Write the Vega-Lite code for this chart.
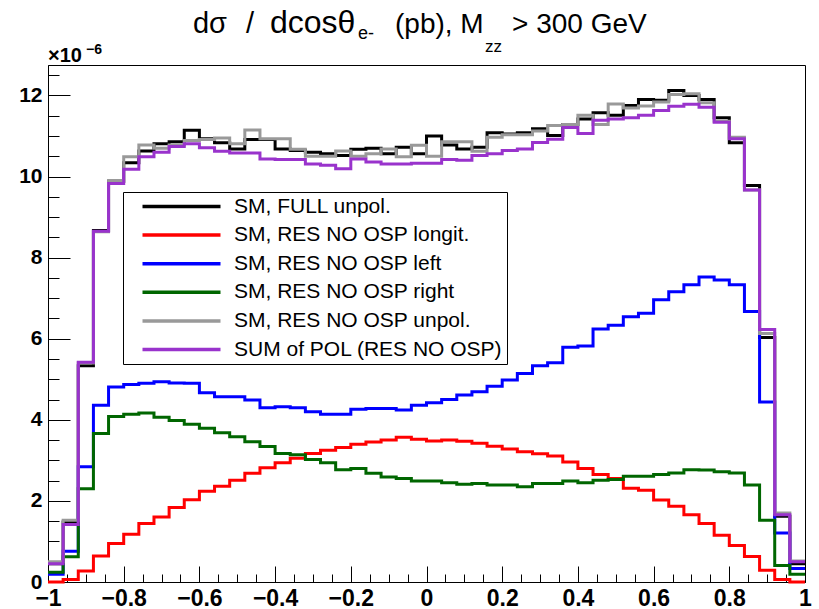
{
  "$schema": "https://vega.github.io/schema/vega-lite/v6.json",
  "width": 757,
  "height": 517,
  "autosize": {"type": "none"},
  "padding": {"left": 48, "top": 65, "right": 14, "bottom": 27},
  "background": "white",
  "config": {"view": {"stroke": "black", "strokeWidth": 1}, "font": "Liberation Sans"},
  "datasets": {
    "h": [
      {"x": -1.00, "full": 0.45, "longit": 0.00, "left": 0.19, "right": 0.24, "unpol": 0.50, "sum": 0.45},
      {"x": -0.96, "full": 1.48, "longit": 0.06, "left": 0.76, "right": 0.62, "unpol": 1.52, "sum": 1.42},
      {"x": -0.92, "full": 5.33, "longit": 0.27, "left": 2.84, "right": 2.30, "unpol": 5.40, "sum": 5.42},
      {"x": -0.88, "full": 8.67, "longit": 0.64, "left": 4.36, "right": 3.66, "unpol": 8.64, "sum": 8.65},
      {"x": -0.84, "full": 9.88, "longit": 0.95, "left": 4.81, "right": 4.08, "unpol": 9.90, "sum": 9.83},
      {"x": -0.80, "full": 10.34, "longit": 1.18, "left": 4.87, "right": 4.14, "unpol": 10.49, "sum": 10.18},
      {"x": -0.76, "full": 10.63, "longit": 1.44, "left": 4.90, "right": 4.17, "unpol": 10.78, "sum": 10.49},
      {"x": -0.72, "full": 10.81, "longit": 1.60, "left": 4.94, "right": 4.06, "unpol": 10.70, "sum": 10.60},
      {"x": -0.68, "full": 10.86, "longit": 1.84, "left": 4.91, "right": 3.98, "unpol": 10.78, "sum": 10.74},
      {"x": -0.64, "full": 11.14, "longit": 2.03, "left": 4.90, "right": 3.89, "unpol": 10.89, "sum": 10.81},
      {"x": -0.60, "full": 10.93, "longit": 2.24, "left": 4.67, "right": 3.79, "unpol": 10.91, "sum": 10.71},
      {"x": -0.56, "full": 10.83, "longit": 2.36, "left": 4.57, "right": 3.68, "unpol": 10.95, "sum": 10.62},
      {"x": -0.52, "full": 10.68, "longit": 2.51, "left": 4.57, "right": 3.58, "unpol": 10.81, "sum": 10.58},
      {"x": -0.48, "full": 10.91, "longit": 2.68, "left": 4.49, "right": 3.46, "unpol": 11.15, "sum": 10.58},
      {"x": -0.44, "full": 10.91, "longit": 2.82, "left": 4.30, "right": 3.34, "unpol": 10.93, "sum": 10.43},
      {"x": -0.40, "full": 10.68, "longit": 2.94, "left": 4.32, "right": 3.17, "unpol": 10.93, "sum": 10.42},
      {"x": -0.36, "full": 10.64, "longit": 3.05, "left": 4.30, "right": 3.14, "unpol": 10.67, "sum": 10.42},
      {"x": -0.32, "full": 10.60, "longit": 3.17, "left": 4.20, "right": 3.02, "unpol": 10.50, "sum": 10.31},
      {"x": -0.28, "full": 10.56, "longit": 3.25, "left": 4.14, "right": 2.94, "unpol": 10.50, "sum": 10.28},
      {"x": -0.24, "full": 10.52, "longit": 3.32, "left": 4.14, "right": 2.77, "unpol": 10.63, "sum": 10.19},
      {"x": -0.20, "full": 10.67, "longit": 3.40, "left": 4.26, "right": 2.80, "unpol": 10.50, "sum": 10.43},
      {"x": -0.16, "full": 10.70, "longit": 3.45, "left": 4.28, "right": 2.68, "unpol": 10.56, "sum": 10.36},
      {"x": -0.12, "full": 10.56, "longit": 3.50, "left": 4.28, "right": 2.59, "unpol": 10.68, "sum": 10.31},
      {"x": -0.08, "full": 10.72, "longit": 3.57, "left": 4.24, "right": 2.55, "unpol": 10.49, "sum": 10.31},
      {"x": -0.04, "full": 10.56, "longit": 3.52, "left": 4.36, "right": 2.49, "unpol": 10.77, "sum": 10.33},
      {"x": 0.00, "full": 11.00, "longit": 3.48, "left": 4.42, "right": 2.49, "unpol": 10.50, "sum": 10.33},
      {"x": 0.04, "full": 10.78, "longit": 3.50, "left": 4.50, "right": 2.45, "unpol": 10.86, "sum": 10.42},
      {"x": 0.08, "full": 10.68, "longit": 3.47, "left": 4.61, "right": 2.41, "unpol": 10.86, "sum": 10.40},
      {"x": 0.12, "full": 10.72, "longit": 3.42, "left": 4.69, "right": 2.43, "unpol": 10.62, "sum": 10.52},
      {"x": 0.16, "full": 11.08, "longit": 3.35, "left": 4.83, "right": 2.39, "unpol": 10.97, "sum": 10.56},
      {"x": 0.20, "full": 11.05, "longit": 3.28, "left": 4.98, "right": 2.39, "unpol": 11.03, "sum": 10.64},
      {"x": 0.24, "full": 11.08, "longit": 3.21, "left": 5.14, "right": 2.35, "unpol": 11.03, "sum": 10.68},
      {"x": 0.28, "full": 11.18, "longit": 3.16, "left": 5.33, "right": 2.43, "unpol": 11.12, "sum": 10.84},
      {"x": 0.32, "full": 11.01, "longit": 3.11, "left": 5.41, "right": 2.43, "unpol": 11.26, "sum": 10.92},
      {"x": 0.36, "full": 11.28, "longit": 2.96, "left": 5.79, "right": 2.49, "unpol": 11.28, "sum": 11.21},
      {"x": 0.40, "full": 11.42, "longit": 2.80, "left": 5.82, "right": 2.45, "unpol": 11.51, "sum": 11.06},
      {"x": 0.44, "full": 11.57, "longit": 2.65, "left": 6.24, "right": 2.51, "unpol": 11.28, "sum": 11.39},
      {"x": 0.48, "full": 11.51, "longit": 2.55, "left": 6.33, "right": 2.53, "unpol": 11.79, "sum": 11.42},
      {"x": 0.52, "full": 11.75, "longit": 2.31, "left": 6.54, "right": 2.61, "unpol": 11.69, "sum": 11.45},
      {"x": 0.56, "full": 11.90, "longit": 2.26, "left": 6.63, "right": 2.61, "unpol": 11.74, "sum": 11.51},
      {"x": 0.60, "full": 11.88, "longit": 2.02, "left": 6.96, "right": 2.65, "unpol": 11.84, "sum": 11.63},
      {"x": 0.64, "full": 12.12, "longit": 1.87, "left": 7.16, "right": 2.69, "unpol": 12.02, "sum": 11.73},
      {"x": 0.68, "full": 12.00, "longit": 1.66, "left": 7.33, "right": 2.77, "unpol": 12.04, "sum": 11.78},
      {"x": 0.72, "full": 11.90, "longit": 1.44, "left": 7.52, "right": 2.76, "unpol": 11.82, "sum": 11.71},
      {"x": 0.76, "full": 11.45, "longit": 1.15, "left": 7.45, "right": 2.72, "unpol": 11.36, "sum": 11.34},
      {"x": 0.80, "full": 10.83, "longit": 0.90, "left": 7.33, "right": 2.69, "unpol": 10.97, "sum": 10.93},
      {"x": 0.84, "full": 9.78, "longit": 0.63, "left": 6.67, "right": 2.39, "unpol": 9.67, "sum": 9.67},
      {"x": 0.88, "full": 6.03, "longit": 0.29, "left": 4.44, "right": 1.52, "unpol": 6.13, "sum": 6.23},
      {"x": 0.92, "full": 1.62, "longit": 0.06, "left": 1.21, "right": 0.41, "unpol": 1.70, "sum": 1.66},
      {"x": 0.96, "full": 0.45, "longit": 0.00, "left": 0.33, "right": 0.19, "unpol": 0.52, "sum": 0.50},
      {"x": 1.00, "full": 0.45, "longit": 0.00, "left": 0.33, "right": 0.19, "unpol": 0.52, "sum": 0.50}
    ],
    "one": [{}]
  },
  "layer": [
    {
      "data": {"name": "h"},
      "transform": [{"fold": ["full", "longit", "left", "right", "unpol", "sum"], "as": ["series", "value"]}],
      "mark": {"type": "line", "interpolate": "step-after", "strokeWidth": 3},
      "encoding": {
        "x": {
          "field": "x", "type": "quantitative",
          "scale": {"domain": [-1, 1], "nice": false, "zero": false},
          "axis": {
            "orient": "bottom", "title": null, "grid": false,
            "values": [-1, -0.8, -0.6, -0.4, -0.2, 0, 0.2, 0.4, 0.6, 0.8, 1],
            "labelExpr": "datum.value == 0 || abs(datum.value) == 1 ? format(datum.value, 'd') : format(datum.value, '.1f')",
            "labelFont": "Liberation Sans", "labelFontWeight": "bold", "labelFontSize": 23, "labelColor": "black",
            "labelFlush": false, "labelOverlap": false, "labelPadding": 21,
            "tickSize": -16, "tickColor": "black", "tickWidth": 1,
            "domainColor": "black", "domainWidth": 1
          }
        },
        "y": {
          "field": "value", "type": "quantitative",
          "scale": {"domain": [0, 12.75], "nice": false, "zero": true},
          "axis": {
            "orient": "left", "title": null, "grid": false,
            "values": [0, 2, 4, 6, 8, 10, 12],
            "labelFont": "Liberation Sans", "labelFontWeight": "bold", "labelFontSize": 21, "labelColor": "black",
            "labelFlush": false, "labelOverlap": false, "labelPadding": 28,
            "tickSize": -22, "tickColor": "black", "tickWidth": 1,
            "domainColor": "black", "domainWidth": 1
          }
        },
        "color": {
          "field": "series", "type": "nominal",
          "scale": {
            "domain": ["full", "longit", "left", "right", "unpol", "sum"],
            "range": ["#000000", "#ff0000", "#0000ff", "#006600", "#999999", "#9933cc"]
          },
          "legend": {
            "orient": "none", "legendX": 75, "legendY": 127, "title": null,
            "symbolType": "M-1,0H8.75", "symbolSize": 256, "symbolStrokeWidth": 3.5, "symbolOffset": 13,
            "labelFont": "Liberation Sans", "labelFontSize": 21, "labelColor": "black", "labelLimit": 0, "labelOffset": 73,
            "strokeColor": "black", "fillColor": "white", "padding": 4, "rowPadding": 6.6,
            "labelExpr": "datum.label == 'full' ? 'SM, FULL unpol.' : datum.label == 'longit' ? 'SM, RES NO OSP longit.' : datum.label == 'left' ? 'SM, RES NO OSP left' : datum.label == 'right' ? 'SM, RES NO OSP right' : datum.label == 'unpol' ? 'SM, RES NO OSP unpol.' : 'SUM of POL (RES NO OSP)'"
          }
        }
      }
    },
    {
      "data": {"name": "h"},
      "mark": {"type": "point", "opacity": 0},
      "encoding": {
        "x": {
          "field": "x", "type": "quantitative",
          "axis": {
            "orient": "bottom", "title": null, "grid": false, "labels": false, "domain": false,
            "values": [-0.95, -0.9, -0.85, -0.75, -0.7, -0.65, -0.55, -0.5, -0.45, -0.35, -0.3, -0.25, -0.15, -0.1, -0.05, 0.05, 0.1, 0.15, 0.25, 0.3, 0.35, 0.45, 0.5, 0.55, 0.65, 0.7, 0.75, 0.85, 0.9, 0.95],
            "tickSize": -8, "tickColor": "black", "tickWidth": 1
          }
        },
        "y": {
          "field": "full", "type": "quantitative",
          "axis": {
            "orient": "left", "title": null, "grid": false, "labels": false, "domain": false,
            "values": [0.5, 1, 1.5, 2.5, 3, 3.5, 4.5, 5, 5.5, 6.5, 7, 7.5, 8.5, 9, 9.5, 10.5, 11, 11.5, 12.5],
            "tickSize": -11, "tickColor": "black", "tickWidth": 1
          }
        }
      }
    },
    {
      "data": {"name": "one"},
      "mark": {"type": "text", "text": "dσ", "align": "left", "baseline": "alphabetic", "fontSize": 29, "font": "Liberation Sans", "color": "black"},
      "encoding": {"x": {"datum": -0.617, "type": "quantitative", "axis": null}, "y": {"datum": 13.54, "type": "quantitative", "axis": null}}
    },
    {
      "data": {"name": "one"},
      "mark": {"type": "text", "text": "/", "align": "left", "baseline": "alphabetic", "fontSize": 29, "font": "Liberation Sans", "color": "black"},
      "encoding": {"x": {"datum": -0.477, "type": "quantitative", "axis": null}, "y": {"datum": 13.54, "type": "quantitative", "axis": null}}
    },
    {
      "data": {"name": "one"},
      "mark": {"type": "text", "text": "dcosθ", "align": "left", "baseline": "alphabetic", "fontSize": 32, "font": "Liberation Sans", "color": "black"},
      "encoding": {"x": {"datum": -0.4135, "type": "quantitative", "axis": null}, "y": {"datum": 13.54, "type": "quantitative", "axis": null}}
    },
    {
      "data": {"name": "one"},
      "mark": {"type": "text", "text": "e-", "align": "left", "baseline": "alphabetic", "fontSize": 18, "font": "Liberation Sans", "color": "black"},
      "encoding": {"x": {"datum": -0.181, "type": "quantitative", "axis": null}, "y": {"datum": 13.39, "type": "quantitative", "axis": null}}
    },
    {
      "data": {"name": "one"},
      "mark": {"type": "text", "text": "(pb), M", "align": "left", "baseline": "alphabetic", "fontSize": 28, "font": "Liberation Sans", "color": "black"},
      "encoding": {"x": {"datum": -0.0832, "type": "quantitative", "axis": null}, "y": {"datum": 13.54, "type": "quantitative", "axis": null}}
    },
    {
      "data": {"name": "one"},
      "mark": {"type": "text", "text": "zz", "align": "left", "baseline": "alphabetic", "fontSize": 17, "font": "Liberation Sans", "color": "black"},
      "encoding": {"x": {"datum": 0.1546, "type": "quantitative", "axis": null}, "y": {"datum": 13.07, "type": "quantitative", "axis": null}}
    },
    {
      "data": {"name": "one"},
      "mark": {"type": "text", "text": "> 300 GeV", "align": "left", "baseline": "alphabetic", "fontSize": 28, "font": "Liberation Sans", "color": "black"},
      "encoding": {"x": {"datum": 0.2259, "type": "quantitative", "axis": null}, "y": {"datum": 13.54, "type": "quantitative", "axis": null}}
    },
    {
      "data": {"name": "one"},
      "mark": {"type": "text", "text": "×10", "align": "left", "baseline": "alphabetic", "fontSize": 20, "fontWeight": "bold", "font": "Liberation Sans", "color": "black"},
      "encoding": {"x": {"datum": -1, "type": "quantitative", "axis": null}, "y": {"datum": 12.824, "type": "quantitative", "axis": null}}
    },
    {
      "data": {"name": "one"},
      "mark": {"type": "text", "text": "−6", "align": "left", "baseline": "alphabetic", "fontSize": 14, "fontWeight": "bold", "font": "Liberation Sans", "color": "black"},
      "encoding": {"x": {"datum": -0.8996, "type": "quantitative", "axis": null}, "y": {"datum": 13.021, "type": "quantitative", "axis": null}}
    }
  ],
  "resolve": {"axis": {"x": "independent", "y": "independent"}}
}
